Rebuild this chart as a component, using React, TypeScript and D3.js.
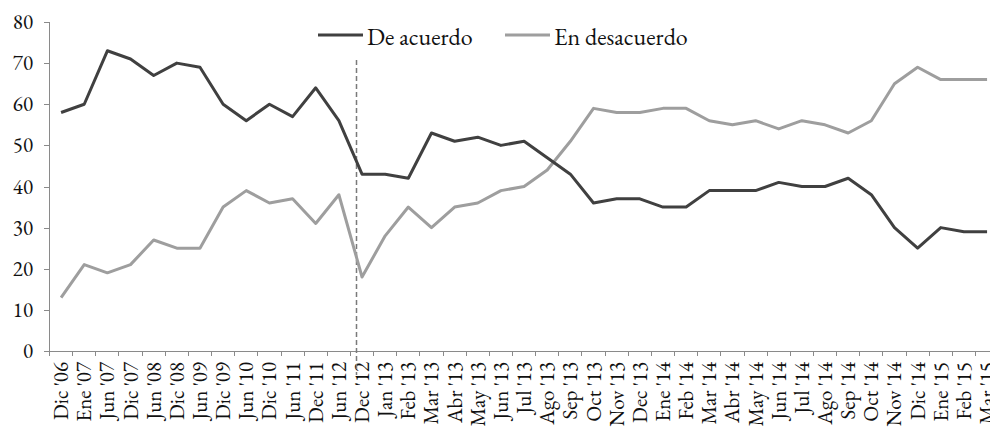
import * as d3 from 'd3'

const categories = [
  "Dic '06", "Ene '07", "Jun '07", "Dic '07", "Jun '08", "Dic '08", "Jun '09", "Dic '09",
  "Jun '10", "Dic '10", "Jun '11", "Dec '11", "Jun '12", "Dec '12", "Jan '13", "Feb '13",
  "Mar '13", "Abr '13", "May '13", "Jun '13", "Jul '13", "Ago '13", "Sep '13", "Oct '13",
  "Nov '13", "Dec '13", "Ene '14", "Feb '14", "Mar '14", "Abr '14", "May '14", "Jun '14",
  "Jul '14", "Ago '14", "Sep '14", "Oct '14", "Nov '14", "Dic '14", "Ene '15", "Feb '15", "Mar '15",
]

const deAcuerdo = [
  58, 60, 73, 71, 67, 70, 69, 60, 56, 60, 57, 64, 56, 43, 43, 42, 53, 51, 52, 50, 51,
  47, 43, 36, 37, 37, 35, 35, 39, 39, 39, 41, 40, 40, 42, 38, 30, 25, 30, 29, 29,
]

const enDesacuerdo = [
  13, 21, 19, 21, 27, 25, 25, 35, 39, 36, 37, 31, 38, 18, 28, 35, 30, 35, 36, 39, 40,
  44, 51, 59, 58, 58, 59, 59, 56, 55, 56, 54, 56, 55, 53, 56, 65, 69, 66, 66, 66,
]

const yTicks = [0, 10, 20, 30, 40, 50, 60, 70, 80]
const markerCategory = "Dec '12"

const W = 990
const H = 431
const FONT = "'EB Garamond', 'Liberation Serif', serif"
const DARK = '#404040'
const LIGHT = '#9e9e9e'
const AXIS = '#8a8a8a'
const TEXT = '#111'

const x = d3.scaleBand<string>().domain(categories).range([49.5, 49.5 + categories.length * 23.15])
const y = d3.scaleLinear().domain([0, 80]).range([351, 22])
const cx = (c: string) => (x(c) ?? 0) + x.bandwidth() / 2

const line = d3
  .line<number>()
  .x((_, i) => cx(categories[i]))
  .y((d) => y(d))

const legend = [
  { name: 'De acuerdo', color: DARK, x0: 318 },
  { name: 'En desacuerdo', color: LIGHT, x0: 505 },
]

export default function App() {
  const y0 = y(0)
  const mx = Math.round(cx(markerCategory) - x.bandwidth() * 0.27) + 0.5
  const textStyle = { fontFamily: FONT, fontVariantNumeric: 'lining-nums' as const }

  return (
    <svg width={W} height={H} style={{ position: 'absolute', left: 0, top: 0, background: '#fff' }}>
      {/* y axis */}
      <line x1={49.5} x2={49.5} y1={y(80)} y2={y0} stroke={AXIS} />
      {yTicks.map((t) => (
        <g key={t} transform={`translate(0,${Math.round(y(t)) + 0.5})`}>
          <line x1={44} x2={49.5} stroke={AXIS} />
          <text x={33} dy="0.33em" textAnchor="end" fill={TEXT} style={{ ...textStyle, fontSize: '21px' }}>
            {t}
          </text>
        </g>
      ))}

      {/* x axis */}
      <line x1={49.5} x2={x.range()[1]} y1={y0 + 0.5} y2={y0 + 0.5} stroke={AXIS} />
      {d3.range(categories.length + 1).map((i) => {
        const tx = Math.round(49 + i * x.step()) + 0.5
        return <line key={i} x1={tx} x2={tx} y1={y0} y2={y0 + 5} stroke={AXIS} />
      })}
      {categories.map((c) => (
        <text
          key={c}
          transform={`translate(${cx(c) + 7},${y0 + 11}) rotate(-90)`}
          textAnchor="end"
          fill={TEXT}
          style={{ ...textStyle, fontSize: '21px' }}
        >
          {c}
        </text>
      ))}

      {/* dashed marker */}
      <line x1={mx} x2={mx} y1={60} y2={375} stroke="#7a7a7a" strokeWidth={1.5} strokeDasharray="5 3" />

      <path d={line(enDesacuerdo) ?? ''} fill="none" stroke={LIGHT} strokeWidth={3} strokeLinejoin="round" />
      <path d={line(deAcuerdo) ?? ''} fill="none" stroke={DARK} strokeWidth={3} strokeLinejoin="round" />

      {/* legend */}
      {legend.map((l) => (
        <g key={l.name}>
          <line x1={l.x0} x2={l.x0 + 45} y1={35} y2={35} stroke={l.color} strokeWidth={3} />
          <text x={l.x0 + 49} y={45} fill={TEXT} style={{ ...textStyle, fontSize: '24px' }}>
            {l.name}
          </text>
        </g>
      ))}
    </svg>
  )
}
